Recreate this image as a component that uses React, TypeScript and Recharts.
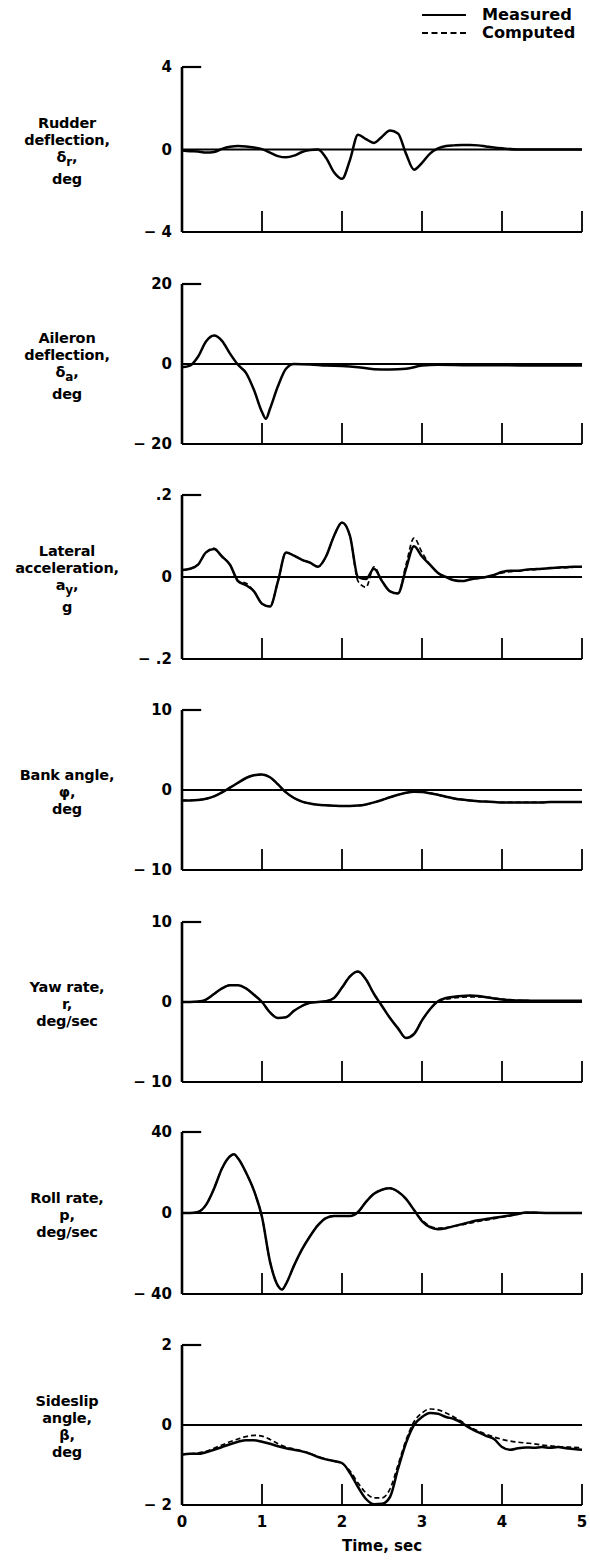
import React from 'react';
import { LineChart, Line, XAxis, YAxis, ReferenceLine } from 'recharts';

const FONT = '"DejaVu Sans", "Liberation Sans", Arial, sans-serif';

const timeTicks = [0, 1, 2, 3, 4, 5];
const step01 = [0, 0.1, 0.2, 0.3, 0.4, 0.5, 0.6, 0.7, 0.8, 0.9, 1.0, 1.1, 1.2, 1.3, 1.4, 1.5, 1.6, 1.7, 1.8, 1.9, 2.0, 2.1, 2.2, 2.3, 2.4, 2.5, 2.6, 2.7, 2.8, 2.9, 3.0, 3.1, 3.2, 3.3, 3.4, 3.5, 3.6, 3.7, 3.8, 3.9, 4.0, 4.1, 4.2, 4.3, 4.4, 4.5, 4.6, 4.7, 4.8, 4.9, 5.0];

// Rudder deflection, deg
const rudderTime = [0, 0.1, 0.2, 0.3, 0.4, 0.5, 0.6, 0.7, 0.8, 0.9, 1.0, 1.1, 1.2, 1.3, 1.4, 1.5, 1.6, 1.7, 1.8, 1.9, 2.0, 2.1, 2.2, 2.3, 2.4, 2.5, 2.6, 2.7, 2.8, 2.9, 3.0, 3.1, 3.2, 3.3, 3.4, 3.5, 3.6, 3.7, 3.8, 3.9, 4.0, 4.2, 4.4, 4.6, 4.8, 5.0];
const rudderMeasured = [-0.05, -0.08, -0.1, -0.15, -0.12, 0.03, 0.13, 0.17, 0.15, 0.1, 0.02, -0.15, -0.32, -0.38, -0.3, -0.12, -0.03, 0, -0.4, -1.1, -1.42, -0.5, 0.72, 0.5, 0.32, 0.62, 0.92, 0.78, -0.2, -0.98, -0.65, -0.2, 0.05, 0.17, 0.2, 0.22, 0.22, 0.2, 0.15, 0.1, 0.06, 0, 0, 0, 0, 0];

// Aileron deflection, deg
const aileronTime = [0, 0.1, 0.2, 0.3, 0.4, 0.5, 0.6, 0.7, 0.8, 0.9, 1.0, 1.05, 1.1, 1.2, 1.3, 1.4, 1.6, 1.8, 2.0, 2.2, 2.4, 2.6, 2.8, 3.0, 3.2, 3.6, 4.0, 4.5, 5.0];
const aileronMeasured = [-0.8, -0.4, 1.8, 5.6, 7.1, 5.8, 2.6, -0.2, -2.2, -6.5, -12.0, -13.7, -11.2, -5.5, -1.2, 0, -0.1, -0.4, -0.5, -0.8, -1.3, -1.4, -1.2, -0.4, -0.2, -0.3, -0.3, -0.4, -0.4];

// Lateral acceleration, g
const lateralMeasured = [0.017, 0.02, 0.03, 0.06, 0.068, 0.05, 0.03, -0.01, -0.02, -0.035, -0.065, -0.072, -0.01, 0.06, 0.052, 0.042, 0.035, 0.025, 0.05, 0.1, 0.133, 0.1, 0.0, -0.005, 0.02, -0.01, -0.035, -0.04, 0.02, 0.075, 0.05, 0.03, 0.01, 0.0, -0.008, -0.01, -0.006, -0.003, 0.0, 0.005, 0.012, 0.015, 0.015, 0.018, 0.019, 0.02, 0.022, 0.023, 0.024, 0.025, 0.025];
const lateralComputed = [0.017, 0.02, 0.03, 0.06, 0.07, 0.05, 0.03, -0.01, -0.015, -0.035, -0.065, -0.072, -0.01, 0.06, 0.052, 0.042, 0.035, 0.025, 0.05, 0.1, 0.133, 0.1, -0.01, -0.025, 0.025, -0.01, -0.035, -0.04, 0.03, 0.095, 0.06, 0.03, 0.01, 0.0, -0.008, -0.01, -0.006, -0.003, 0.0, 0.005, 0.01, 0.013, 0.015, 0.017, 0.018, 0.02, 0.021, 0.022, 0.023, 0.024, 0.025];

// Bank angle, deg
const bankMeasured = [-1.3, -1.3, -1.25, -1.1, -0.8, -0.3, 0.3, 0.9, 1.5, 1.85, 1.95, 1.6, 0.7, -0.3, -1.0, -1.45, -1.7, -1.85, -1.92, -1.97, -2.0, -2.0, -1.95, -1.8, -1.55, -1.25, -0.9, -0.6, -0.35, -0.22, -0.25, -0.4, -0.6, -0.85, -1.05, -1.2, -1.3, -1.4, -1.45, -1.5, -1.55, -1.55, -1.55, -1.55, -1.55, -1.55, -1.5, -1.5, -1.5, -1.5, -1.5];
const bankComputed = [-1.3, -1.3, -1.25, -1.1, -0.8, -0.3, 0.3, 0.9, 1.5, 1.85, 1.95, 1.6, 0.7, -0.3, -1.0, -1.45, -1.7, -1.85, -1.92, -1.97, -2.0, -2.0, -1.95, -1.8, -1.55, -1.25, -0.9, -0.6, -0.35, -0.22, -0.25, -0.4, -0.6, -0.85, -1.05, -1.2, -1.3, -1.4, -1.45, -1.5, -1.55, -1.55, -1.55, -1.55, -1.55, -1.55, -1.5, -1.5, -1.5, -1.5, -1.5];

// Yaw rate, deg/sec
const yawMeasured = [0, 0, 0.05, 0.3, 1.0, 1.7, 2.1, 2.1, 1.7, 0.9, 0, -1.3, -2.0, -1.9, -1.1, -0.5, -0.1, 0.0, 0.1, 0.5, 1.8, 3.2, 3.8, 2.8, 1.0, -0.5, -2.0, -3.3, -4.5, -4.0, -2.3, -0.9, 0.1, 0.5, 0.65, 0.75, 0.8, 0.75, 0.6, 0.45, 0.3, 0.25, 0.2, 0.18, 0.15, 0.15, 0.15, 0.15, 0.15, 0.15, 0.15];
const yawComputed = [0, 0, 0.05, 0.3, 1.0, 1.7, 2.1, 2.1, 1.7, 0.9, 0, -1.3, -2.0, -1.9, -1.1, -0.5, -0.1, 0.0, 0.1, 0.5, 1.8, 3.2, 3.8, 2.8, 1.0, -0.5, -2.0, -3.3, -4.5, -4.0, -2.3, -0.9, 0.1, 0.35, 0.5, 0.6, 0.65, 0.65, 0.6, 0.5, 0.35, 0.25, 0.2, 0.18, 0.15, 0.15, 0.15, 0.15, 0.15, 0.15, 0.15];

// Roll rate, deg/sec
const rollTime = [0, 0.1, 0.2, 0.3, 0.4, 0.5, 0.6, 0.65, 0.7, 0.8, 0.9, 1.0, 1.1, 1.2, 1.25, 1.3, 1.4, 1.5, 1.6, 1.7, 1.8, 1.9, 2.0, 2.1, 2.2, 2.3, 2.4, 2.5, 2.6, 2.7, 2.8, 2.9, 3.0, 3.1, 3.2, 3.3, 3.4, 3.5, 3.6, 3.7, 3.8, 3.9, 4.0, 4.1, 4.2, 4.3, 4.4, 4.6, 4.8, 5.0];
const rollMeasured = [0, 0, 0.5, 4, 12, 22, 28, 29, 27, 20, 11, -2, -24, -36, -37.8, -35, -26, -18, -11.5, -6, -2.5, -1.5, -1.5, -1.5, 0.5, 5.5, 9.5, 11.5, 12.2, 10.5, 7, 1.5, -4, -7, -8, -7.5, -6.5, -5.5, -4.5, -3.6, -3, -2.4, -1.8, -1.2, -0.5, 0.3, 0.2, 0, 0, 0];
const rollComputed = [0, 0, 0.5, 4, 12, 22, 28, 29, 27, 20, 11, -2, -24, -36, -37.8, -35, -26, -18, -11.5, -6, -2.5, -1.5, -1.5, -1.5, 0.5, 5.5, 9.5, 11.5, 12.2, 10.5, 7, 1.5, -3.5, -6.5, -7.5, -7.2, -6.5, -5.8, -5, -4.2, -3.5, -2.8, -2.0, -1.3, -0.6, 0.2, 0.2, 0, 0, 0];

// Sideslip angle, deg
const sideslipMeasured = [-0.74, -0.72, -0.72, -0.68, -0.62, -0.55, -0.48, -0.42, -0.38, -0.38, -0.42, -0.47, -0.53, -0.58, -0.62, -0.66, -0.72, -0.8, -0.86, -0.9, -0.95, -1.2, -1.55, -1.85, -1.98, -1.97, -1.8, -1.1, -0.45, 0.0, 0.2, 0.3, 0.28, 0.2, 0.15, 0.05, -0.08, -0.18, -0.27, -0.35, -0.55, -0.62, -0.58, -0.56, -0.57, -0.55, -0.57, -0.55, -0.58, -0.6, -0.62];
const sideslipComputed = [-0.74, -0.72, -0.7, -0.66, -0.58, -0.5, -0.42, -0.35, -0.29, -0.26, -0.28, -0.36, -0.47, -0.55, -0.6, -0.65, -0.71, -0.79, -0.85, -0.9, -0.96, -1.15, -1.45, -1.7, -1.82, -1.82, -1.6, -1.0, -0.38, 0.08, 0.3, 0.4, 0.38, 0.3, 0.2, 0.08, -0.05, -0.15, -0.23, -0.3, -0.36, -0.4, -0.43, -0.45, -0.47, -0.5, -0.52, -0.54, -0.55, -0.56, -0.57];

const legendLabels = ['Measured', 'Computed'];
const xAxisTitle = 'Time, sec';

const minus = '\u2212';
const fmtInt = (v: number) => (v < 0 ? `${minus} ${Math.abs(v)}` : `${v}`);
const fmtDec = (v: number) => (v === 0 ? '0' : v < 0 ? `${minus} .${String(Math.abs(v)).split('.')[1]}` : `.${String(v).split('.')[1]}`);

const sub = (base: string, s: string) => (
  <span>
    {base}
    <sub style={{ fontSize: 12, verticalAlign: '-4px' }}>{s}</sub>,
  </span>
);

type Panel = {
  label: React.ReactNode[];
  time: number[];
  measured: number[];
  computed?: number[];
  max: number;
  fmt: (v: number) => string;
  top: number;
  bottom: number;
  showX?: boolean;
};

const panels: Panel[] = [
  { label: ['Rudder', 'deflection,', sub('δ', 'r'), 'deg'], time: rudderTime, measured: rudderMeasured, max: 4, fmt: fmtInt, top: 67, bottom: 232 },
  { label: ['Aileron', 'deflection,', sub('δ', 'a'), 'deg'], time: aileronTime, measured: aileronMeasured, max: 20, fmt: fmtInt, top: 284, bottom: 444 },
  { label: ['Lateral', 'acceleration,', sub('a', 'y'), 'g'], time: step01, measured: lateralMeasured, computed: lateralComputed, max: 0.2, fmt: fmtDec, top: 495, bottom: 659 },
  { label: ['Bank angle,', 'φ,', 'deg'], time: step01, measured: bankMeasured, computed: bankComputed, max: 10, fmt: fmtInt, top: 710, bottom: 870 },
  { label: ['Yaw rate,', 'r,', 'deg/sec'], time: step01, measured: yawMeasured, computed: yawComputed, max: 10, fmt: fmtInt, top: 922, bottom: 1082 },
  { label: ['Roll rate,', 'p,', 'deg/sec'], time: rollTime, measured: rollMeasured, computed: rollComputed, max: 40, fmt: fmtInt, top: 1132, bottom: 1294 },
  { label: ['Sideslip', 'angle,', 'β,', 'deg'], time: step01, measured: sideslipMeasured, computed: sideslipComputed, max: 2, fmt: fmtInt, top: 1345, bottom: 1505, showX: true },
];

const MARGIN_TOP = 10;
const X_AXIS_H = 40;

const XTick = (props: any) => {
  const { x, y, payload, showLabel } = props;
  return (
    <g>
      {payload.value > 0 && <line x1={x} x2={x} y1={y} y2={y - 21} stroke="#000" strokeWidth={1.8} />}
      {showLabel && (
        <text x={x} y={y + 22} textAnchor="middle" fill="#000" fontSize={15} fontWeight={700} fontFamily={FONT}>
          {payload.value}
        </text>
      )}
    </g>
  );
};

const PanelChart = ({ p }: { p: Panel }) => {
  const data = p.time.map((t, i) => ({ t, m: p.measured[i], c: p.computed ? p.computed[i] : undefined }));
  const plotH = p.bottom - p.top;
  const zeroY = (p.top + p.bottom) / 2;
  return (
    <>
      <div
        style={{
          position: 'absolute', left: 0, width: 134, top: zeroY - 58, height: 120,
          display: 'flex', flexDirection: 'column', alignItems: 'center', justifyContent: 'center',
          fontFamily: FONT, fontWeight: 700, fontSize: 14.5, lineHeight: '17px', color: '#000', textAlign: 'center',
          letterSpacing: '-0.2px',
        }}
      >
        {p.label.map((l, i) => (
          <div key={i}>{l}</div>
        ))}
      </div>
      <div style={{ position: 'absolute', left: 0, top: p.top - MARGIN_TOP }}>
        <LineChart width={590} height={plotH + MARGIN_TOP + X_AXIS_H} data={data} margin={{ top: MARGIN_TOP, right: 8, left: 0, bottom: 0 }}>
          <XAxis
            dataKey="t"
            type="number"
            domain={[0, 5]}
            ticks={timeTicks}
            interval={0}
            height={X_AXIS_H}
            tickSize={0}
            tickMargin={0}
            tickLine={false}
            axisLine={{ stroke: '#000', strokeWidth: 2.2 }}
            tick={(tp: any) => <XTick {...tp} showLabel={!!p.showX} />}
          />
          <YAxis
            type="number"
            domain={[-p.max, p.max]}
            ticks={[-p.max, 0, p.max]}
            interval={0}
            width={182}
            tickSize={0}
            tickMargin={10}
            tickLine={false}
            axisLine={{ stroke: '#000', strokeWidth: 2.6 }}
            tickFormatter={p.fmt}
            tick={{ fill: '#000', fontSize: 15, fontWeight: 700, fontFamily: FONT }}
          />
          <ReferenceLine y={0} stroke="#000" strokeWidth={2.2} />
          <ReferenceLine segment={[{ x: 0, y: p.max }, { x: 0.24, y: p.max }]} stroke="#000" strokeWidth={2.2} />
          {p.computed && (
            <Line dataKey="c" type="monotone" stroke="#000" strokeWidth={1.7} strokeDasharray="5 3" dot={false} isAnimationActive={false} />
          )}
          <Line dataKey="m" type="monotone" stroke="#000" strokeWidth={2.5} dot={false} isAnimationActive={false} />
        </LineChart>
      </div>
    </>
  );
};

export default function App() {
  return (
    <div style={{ position: 'absolute', left: 0, top: 0, width: 590, height: 1565, background: '#fff', fontFamily: FONT }}>
      {/* legend */}
      <div style={{ position: 'absolute', left: 422, top: 14, width: 44, borderTop: '2px solid #000' }} />
      <div style={{ position: 'absolute', left: 422, top: 32, width: 44, borderTop: '2px dashed #000' }} />
      <div style={{ position: 'absolute', left: 482, top: 6, fontWeight: 700, fontSize: 16.2, lineHeight: '18px' }}>{legendLabels[0]}</div>
      <div style={{ position: 'absolute', left: 482, top: 24, fontWeight: 700, fontSize: 16.2, lineHeight: '18px' }}>{legendLabels[1]}</div>
      {panels.map((p, i) => (
        <PanelChart key={i} p={p} />
      ))}
      <div style={{ position: 'absolute', left: 182, width: 400, top: 1537, textAlign: 'center', fontWeight: 700, fontSize: 15, lineHeight: '18px' }}>
        {xAxisTitle}
      </div>
    </div>
  );
}
